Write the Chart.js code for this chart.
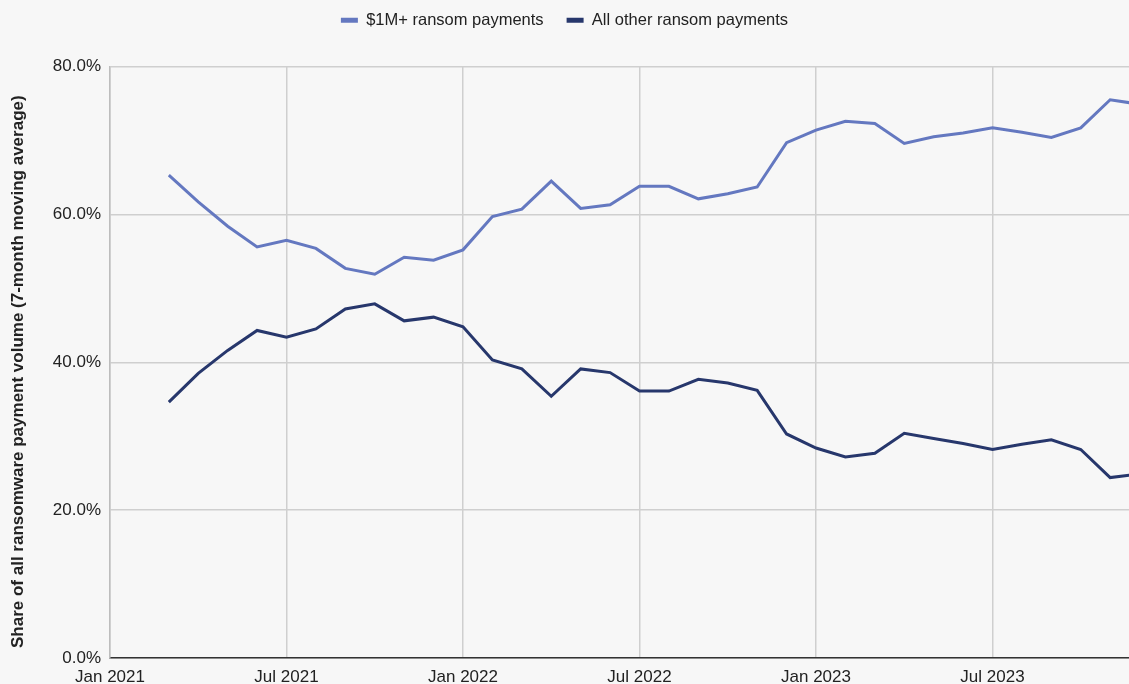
<!DOCTYPE html>
<html>
<head>
<meta charset="utf-8">
<script src="https://cdn.jsdelivr.net/npm/chart.js@4.4.1/dist/chart.umd.min.js"></script>
<style>
  html, body { margin: 0; padding: 0; background: #f7f7f7; overflow: hidden; }
  #wrap { width: 1129px; height: 684px; overflow: hidden; }
  #c { display: block; }
</style>
</head>
<body>
<div id="wrap"><canvas id="c" width="1129" height="700"></canvas></div>
<script>
// ---- Data ----
const months = [
  "Mar 2021","Apr 2021","May 2021","Jun 2021","Jul 2021","Aug 2021","Sep 2021","Oct 2021","Nov 2021","Dec 2021",
  "Jan 2022","Feb 2022","Mar 2022","Apr 2022","May 2022","Jun 2022","Jul 2022","Aug 2022","Sep 2022","Oct 2022","Nov 2022","Dec 2022",
  "Jan 2023","Feb 2023","Mar 2023","Apr 2023","May 2023","Jun 2023","Jul 2023","Aug 2023","Sep 2023","Oct 2023","Nov 2023","Dec 2023"
];
const bigPayments = [
  65.3, 61.7, 58.4, 55.6, 56.5, 55.4, 52.7, 51.9, 54.2, 53.8,
  55.2, 59.7, 60.7, 64.5, 60.8, 61.3, 63.8, 63.8, 62.1, 62.8, 63.7, 69.7,
  71.4, 72.6, 72.3, 69.6, 70.5, 71.0, 71.7, 71.1, 70.4, 71.7, 75.5, 74.9
];
const otherPayments = [
  34.6, 38.5, 41.6, 44.3, 43.4, 44.5, 47.2, 47.9, 45.6, 46.1,
  44.8, 40.3, 39.1, 35.4, 39.1, 38.6, 36.1, 36.1, 37.7, 37.2, 36.2, 30.3,
  28.4, 27.2, 27.7, 30.4, 29.7, 29.0, 28.2, 28.9, 29.5, 28.2, 24.4, 24.9
];
const xTickLabels = ["Jan 2021","Jul 2021","Jan 2022","Jul 2022","Jan 2023","Jul 2023"];
const seriesNames = ["$1M+ ransom payments", "All other ransom payments"];
const yTitle = "Share of all ransomware payment volume (7-month moving average)";

// month label -> month index counted from Jan 2021
const MON = ["Jan","Feb","Mar","Apr","May","Jun","Jul","Aug","Sep","Oct","Nov","Dec"];
function monthIndex(lbl) {
  const [m, y] = lbl.split(" ");
  return (parseInt(y, 10) - 2021) * 12 + MON.indexOf(m);
}
const toPoints = arr => arr.map((v, i) => ({ x: monthIndex(months[i]), y: v }));

const FONT = "'Liberation Sans', Arial, sans-serif";
const TXT = "#222222";

const legendMargin = {
  id: 'legendMargin',
  beforeInit(chart) {
    const origFit = chart.legend.fit;
    chart.legend.fit = function () {
      origFit.bind(chart.legend)();
      this.height += 28;
    };
  }
};
const bg = {
  id: 'bg',
  beforeDraw(chart) {
    const ctx = chart.ctx;
    ctx.save();
    ctx.fillStyle = '#f7f7f7';
    ctx.fillRect(0, 0, chart.width, chart.height);
    ctx.restore();
  }
};

new Chart(document.getElementById('c'), {
  type: 'line',
  data: {
    datasets: [
      {
        label: seriesNames[0],
        data: toPoints(bigPayments),
        borderColor: '#6478c0',
        backgroundColor: '#6478c0',
        borderWidth: 3,
        pointRadius: 0,
        tension: 0
      },
      {
        label: seriesNames[1],
        data: toPoints(otherPayments),
        borderColor: '#27376c',
        backgroundColor: '#27376c',
        borderWidth: 3,
        pointRadius: 0,
        tension: 0
      }
    ]
  },
  options: {
    responsive: false,
    animation: false,
    layout: { padding: { top: -11, right: 0, bottom: 12, left: 0 } },
    plugins: {
      legend: {
        position: 'top',
        labels: {
          boxWidth: 17,
          boxHeight: 5,
          padding: 23,
          color: TXT,
          font: { family: FONT, size: 16.5 },
          generateLabels(chart) {
            const items = Chart.defaults.plugins.legend.labels.generateLabels(chart);
            items.forEach(it => { it.lineWidth = 0; it.strokeStyle = 'rgba(0,0,0,0)'; });
            return items;
          }
        }
      },
      tooltip: { enabled: false }
    },
    scales: {
      x: {
        type: 'linear',
        min: 0,
        max: 34.64,
        afterBuildTicks(scale) {
          scale.ticks = xTickLabels.map((_, i) => ({ value: i * 6 }));
        },
        afterFit(scale) { scale.height = 30; },
        ticks: {
          padding: 9,
          color: TXT,
          font: { family: FONT, size: 17 },
          maxRotation: 0,
          autoSkip: false,
          callback: (v) => xTickLabels[Math.round(v / 6)]
        },
        grid: { color: '#cfcfcf', lineWidth: 1.5, drawTicks: false },
        border: { color: '#333333', width: 1.5 }
      },
      y: {
        min: 0,
        max: 80,
        afterFit(scale) { scale.width = 110; },
        ticks: {
          stepSize: 20,
          padding: 9,
          color: TXT,
          font: { family: FONT, size: 17 },
          callback: (v) => v.toFixed(1) + '%'
        },
        grid: { color: '#cfcfcf', lineWidth: 1.5, drawTicks: false },
        border: { color: '#bdbdbd', width: 1.5 },
        title: {
          display: true,
          text: yTitle + '    ',
          color: TXT,
          font: { family: FONT, size: 17, weight: 'bold' },
          padding: { top: 8, bottom: 4 }
        }
      }
    }
  },
  plugins: [legendMargin, bg]
});
</script>
</body>
</html>
